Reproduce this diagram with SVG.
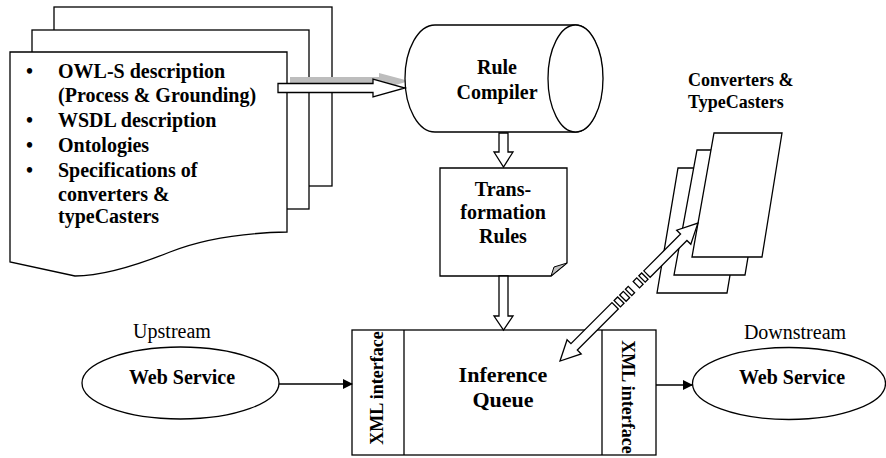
<svg xmlns="http://www.w3.org/2000/svg" width="886" height="458" viewBox="0 0 886 458">
<style>
.s{fill:#fff;stroke:#000;stroke-width:1.3}
.t{font-family:"Liberation Serif","Times New Roman",serif;font-weight:bold;fill:#000}
.r{font-family:"Liberation Serif","Times New Roman",serif;fill:#000}
.ln{stroke:#000;stroke-width:1.3;fill:none}
</style>
<defs>
<marker id="ah" markerWidth="10" markerHeight="10" refX="9" refY="5" orient="auto" markerUnits="userSpaceOnUse">
<path d="M0,0 L10,5 L0,10 Z" fill="#000"/>
</marker>
</defs>
<rect width="886" height="458" fill="#fff"/>

<g id="documents">
<rect class="s" x="54" y="7" width="278" height="179"/>
<rect class="s" x="32" y="30" width="277" height="179"/>
<path class="s" d="M10,52 H287 V232 C240,233 200,240 170,252 C130,268 100,276 75,276 L10,262 Z"/>
<g class="t" font-size="20">
<text x="26" y="78">•</text>
<text x="58" y="78">OWL-S description</text>
<text x="58" y="102">(Process &amp; Grounding)</text>
<text x="26" y="127">•</text>
<text x="58" y="127">WSDL description</text>
<text x="26" y="152">•</text>
<text x="58" y="152">Ontologies</text>
<text x="26" y="177">•</text>
<text x="58" y="177">Specifications of</text>
<text x="58" y="201">converters &amp;</text>
<text x="58" y="223">typeCasters</text>
</g>
</g>

<path d="M290,77 L379,77 L379,73 L409,81 L379,90 L379,83 L290,83 Z" fill="#bdbdbd"/>

<g id="rule-compiler">
<path class="s" d="M435,25 L575,25 A27.5,53.5 0 0 1 575,132 L435,132 A30,53.5 0 0 1 435,25 Z"/>
<ellipse class="s" cx="575.5" cy="78.5" rx="27.5" ry="53.5"/>
<text class="t" font-size="20" x="497" y="74" text-anchor="middle">Rule</text>
<text class="t" font-size="20" x="497" y="99" text-anchor="middle">Compiler</text>
</g>

<g id="transformation-rules">
<path class="s" d="M440,168 H567 V263 L551,276 H440 Z"/>
<path d="M567,263 L551,276 L554,267 Z" fill="#c0c0c0" stroke="#000" stroke-width="1"/>
<text class="t" font-size="20" x="503" y="196" text-anchor="middle">Trans-</text>
<text class="t" font-size="20" x="503" y="219" text-anchor="middle">formation</text>
<text class="t" font-size="20" x="503" y="243" text-anchor="middle">Rules</text>
</g>

<g id="inference-queue">
<rect class="s" x="352" y="330" width="304" height="125"/>
<line class="ln" x1="404" y1="330" x2="404" y2="455"/>
<line class="ln" x1="602" y1="330" x2="602" y2="455"/>
<text class="t" font-size="18" text-anchor="middle" transform="translate(377,388) rotate(-90)" y="6">XML interface</text>
<text class="t" font-size="18" text-anchor="middle" transform="translate(628,397) rotate(90)" y="6">XML interface</text>
<text class="t" font-size="22" x="503" y="382" text-anchor="middle">Inference</text>
<text class="t" font-size="22" x="503" y="407" text-anchor="middle">Queue</text>
</g>

<g id="upstream-ws">
<ellipse class="s" cx="180.5" cy="383" rx="98.5" ry="36"/>
<text class="t" font-size="20" x="182" y="384" text-anchor="middle">Web Service</text>
<text class="r" font-size="20" x="172" y="338" text-anchor="middle">Upstream</text>
</g>

<g id="downstream-ws">
<ellipse class="s" cx="789" cy="383.5" rx="96.5" ry="36"/>
<text class="t" font-size="20" x="792" y="384" text-anchor="middle">Web Service</text>
<text class="r" font-size="20" x="795" y="339" text-anchor="middle">Downstream</text>
</g>

<g id="converters">
<path class="s" d="M678,168 L748,168 L727,293 L657,293 Z"/>
<path class="s" d="M697,150 L766,150 L745,275 L674,275 Z"/>
<path class="s" d="M714,133 L782,133 L762,257 L692,257 Z"/>
<text class="t" font-size="18" x="688" y="86">Converters &amp;</text>
<text class="t" font-size="18" x="688" y="108">TypeCasters</text>
</g>

<g id="connectors">
<path class="s" d="M278,83.5 L373,83.5 L373,79 L405,88 L373,97 L373,92.5 L278,92.5 Z"/>
<path class="s" d="M499,133 L499,152 L494,152 L503.5,167 L513,152 L508,152 L508,133 Z"/>
<path class="s" d="M499,276 L499,316 L494,316 L503.5,330 L513,316 L508,316 L508,276 Z"/>
<line class="ln" x1="279" y1="384" x2="352" y2="384" marker-end="url(#ah)"/>
<line class="ln" x1="656" y1="385" x2="692" y2="385" marker-end="url(#ah)"/>
<g transform="translate(560,361) rotate(-45)">
<path class="s" d="M0,0 L20,-10 L20,-4.5 L78,-4.5 L78,4.5 L20,4.5 L20,10 Z"/>
<rect class="s" x="81" y="-4.5" width="5" height="9"/>
<rect class="s" x="89" y="-4.5" width="5" height="9"/>
<rect class="s" x="97" y="-4.5" width="4" height="9"/>
<rect class="s" x="108" y="-4.5" width="5" height="9"/>
<rect class="s" x="116" y="-4.5" width="4" height="9"/>
<path class="s" d="M123,-4.5 L175,-4.5 L175,-10 L195,0 L175,10 L175,4.5 L123,4.5 Z"/>
</g>
</g>
</svg>
